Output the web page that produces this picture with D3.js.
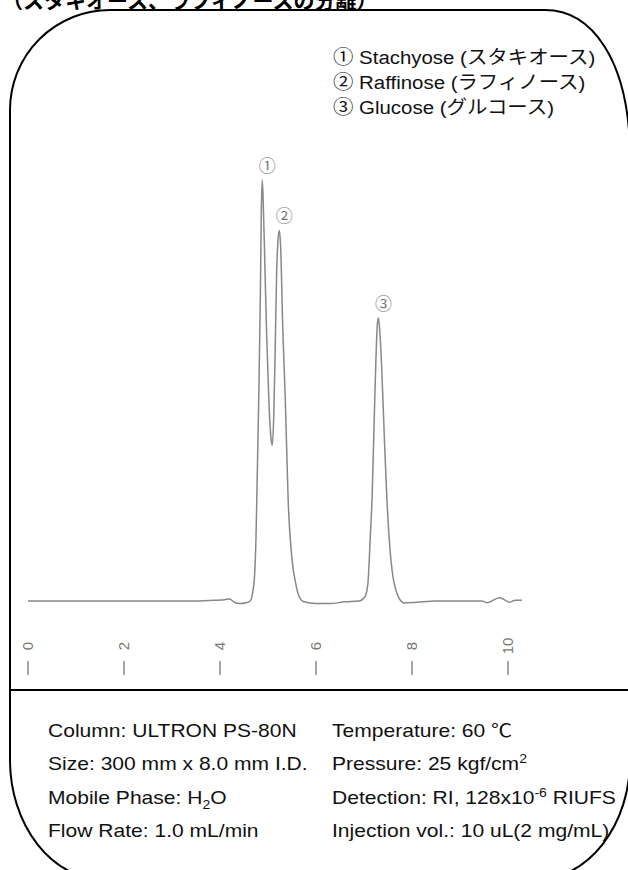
<!DOCTYPE html>
<html>
<head>
<meta charset="utf-8">
<script src="https://cdn.jsdelivr.net/npm/d3@7"></script>
<style>
  body { margin: 0; background: #fff; }
  svg text { font-family: "Liberation Sans", Arial, "Noto Sans CJK JP", sans-serif; }
</style>
</head>
<body>
<svg id="chart" width="628" height="870"></svg>
<script>
// chromatogram (time in min, signal in % of peak 1)
var times  = [0, 3.5, 3.95, 4.1, 4.2, 4.3, 4.4, 4.55, 4.63, 4.68, 4.72, 4.75, 4.78, 4.81, 4.84, 4.86, 4.88, 4.9, 4.93, 4.97,
              5.02, 5.06, 5.09, 5.12, 5.15, 5.18, 5.21, 5.235, 5.26, 5.31, 5.36, 5.42, 5.5, 5.58, 5.65, 5.75, 6.0, 6.3, 6.6,
              6.9, 7.02, 7.08, 7.13, 7.17, 7.21, 7.25, 7.28, 7.3, 7.33, 7.37, 7.42, 7.47, 7.53, 7.6, 7.68, 7.75, 7.85, 8.1,
              8.5, 9.0, 9.45, 9.57, 9.82, 10.04, 10.15, 10.29];
var signal = [0, 0, 0.2, 0.3, 0.5, -0.3, -0.6, -0.4, 0, 2, 6, 15, 32, 50, 72, 92, 100, 95, 82, 64,
              47, 39, 37, 44, 60, 78, 86, 88, 85, 64, 48, 24, 10, 4, 1, -0.2, -0.6, -0.6, -0.2,
              0, 1, 4, 15, 25, 42, 58, 66, 67.2, 64, 55, 40, 26, 14, 6, 2, 0.3, -0.5, -0.3,
              0, 0, 0, -0.4, 0.8, -0.3, 0.2, 0.2];

var tickValues = [0, 2, 4, 6, 8, 10];

var peakLabels = ['①', '②', '③'];
var peakTimes  = [4.88, 5.235, 7.3];
var peakValues = [100, 88, 67.2];

var legendItems = ['① Stachyose (スタキオース)', '② Raffinose (ラフィノース)', '③ Glucose (グルコース)'];

var conditionsLeft  = ['Column: ULTRON PS-80N', 'Size: 300 mm x 8.0 mm I.D.', 'Mobile Phase: H_{2}O', 'Flow Rate: 1.0 mL/min'];
var conditionsRight = ['Temperature: 60 ℃', 'Pressure: 25 kgf/cm^{2}', 'Detection: RI, 128x10^{-6} RIUFS', 'Injection vol.: 10 uL(2 mg/mL)'];

var title = '（スタキオース、ラフィノースの分離）';

var svg = d3.select('#chart');

var x = d3.scaleLinear().domain([0, 10]).range([28, 508]);
var y = d3.scaleLinear().domain([0, 100]).range([601, 180]);

// the original picture is a bit stretched sideways
var stretch = 1.17;

// title, cut off by the top of the picture
svg.append('text')
    .attr('x', 2)
    .attr('y', 8)
    .attr('font-family', '"Noto Sans CJK JP", sans-serif')
    .attr('font-weight', 'bold')
    .attr('font-size', 21)
    .attr('fill', '#000')
    .text(title);

// rounded frame
var R = 630;
var frame = 'M 10 760 L 10 110 A 100 100 0 0 1 110 10 L 545 10 C 592 10 628 60 ' + R + ' 150 ' +
            'L ' + R + ' 760 A 95 120 0 0 1 ' + (R - 95) + ' 880 L 105 880 A 95 120 0 0 1 10 760 Z';
svg.append('path')
    .attr('d', frame)
    .attr('fill', 'none')
    .attr('stroke', '#000')
    .attr('stroke-width', 2);

svg.append('line')
    .attr('x1', 10).attr('x2', R)
    .attr('y1', 690).attr('y2', 690)
    .attr('stroke', '#000')
    .attr('stroke-width', 2);

// legend
svg.append('g')
    .attr('transform', 'translate(333,0) scale(1.075,1)')
  .selectAll('text').data(legendItems).enter().append('text')
    .attr('x', 0)
    .attr('y', function(d, i) { return 64 + i * 25; })
    .attr('font-size', 19)
    .attr('fill', '#111')
    .text(function(d) { return d; });

// trace
var line = d3.line()
    .x(function(d) { return x(d[0]); })
    .y(function(d) { return y(d[1]); })
    .curve(d3.curveMonotoneX);

svg.append('path')
    .datum(d3.zip(times, signal))
    .attr('d', line)
    .attr('fill', 'none')
    .attr('stroke', '#888')
    .attr('stroke-width', 1.5);

// peak numbers
svg.append('g').selectAll('text').data(peakLabels).enter().append('text')
    .attr('x', function(d, i) { return x(peakTimes[i]) + 5; })
    .attr('y', function(d, i) { return y(peakValues[i]) - 14; })
    .attr('dy', '0.35em')
    .attr('text-anchor', 'middle')
    .attr('font-size', 17)
    .attr('fill', '#777')
    .text(function(d) { return d; });

// time axis: rotated labels over short ticks
var axis = svg.append('g');
axis.selectAll('line').data(tickValues).enter().append('line')
    .attr('x1', function(d) { return x(d); })
    .attr('x2', function(d) { return x(d); })
    .attr('y1', 661).attr('y2', 675)
    .attr('stroke', '#888')
    .attr('stroke-width', 1.5);
axis.selectAll('text').data(tickValues).enter().append('text')
    .attr('transform', function(d) { return 'translate(' + x(d) + ',646) rotate(-90)'; })
    .attr('text-anchor', 'middle')
    .attr('dy', '0.35em')
    .attr('font-size', 15)
    .attr('fill', '#777')
    .text(function(d) { return d; });

// conditions, with _{} for subscripts and ^{} for superscripts
function richText(sel, str) {
  var parts = str.split(/([_^]\{[^}]*\})/).filter(function(p) { return p; });
  var back = 0;
  parts.forEach(function(p) {
    if (p[0] == '_' || p[0] == '^') {
      var shift = p[0] == '_' ? 5 : -7;
      sel.append('tspan')
          .attr('font-size', 12)
          .attr('dy', shift - back)
          .text(p.slice(2, -1));
      back = shift;
    } else {
      sel.append('tspan')
          .attr('dy', -back)
          .text(p);
      back = 0;
    }
  });
}

function conditions(data, left) {
  svg.append('g')
      .attr('transform', 'translate(' + left + ',0) scale(' + stretch + ',1)')
    .selectAll('text').data(data).enter().append('text')
      .attr('x', 0)
      .attr('y', function(d, i) { return 737 + i * 33.5; })
      .attr('font-size', 18)
      .attr('fill', '#111')
      .each(function(d) { richText(d3.select(this), d); });
}
conditions(conditionsLeft, 48);
conditions(conditionsRight, 332);
</script>
</body>
</html>
